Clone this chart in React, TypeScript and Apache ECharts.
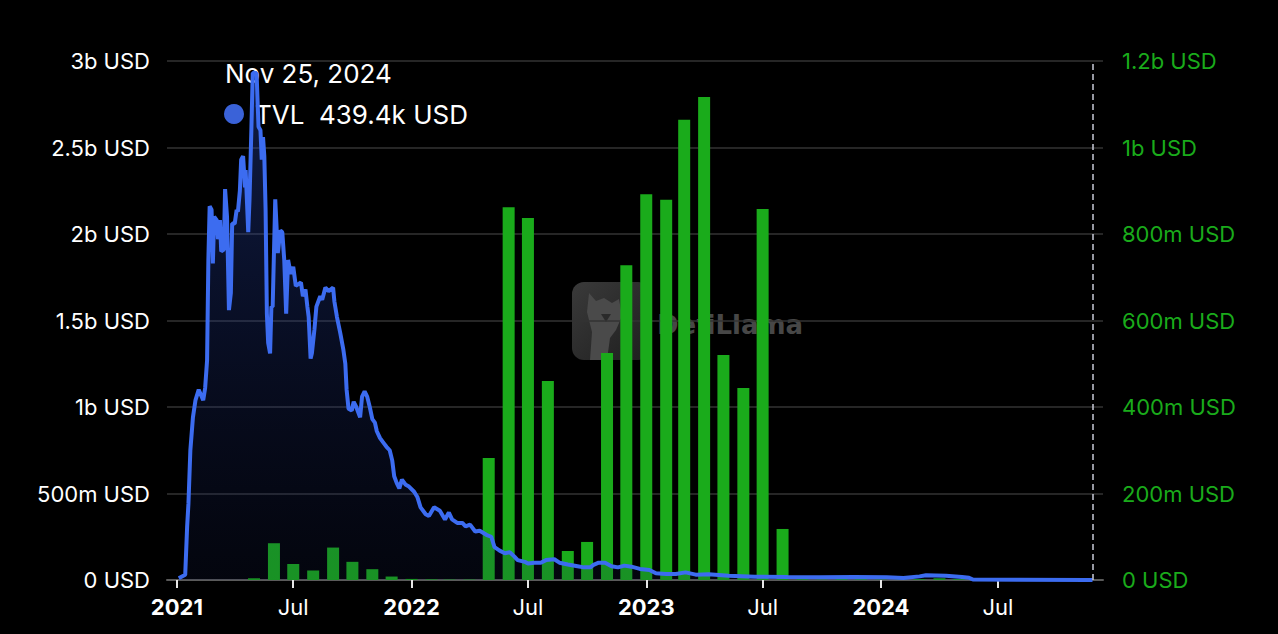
import React, { useEffect, useRef } from 'react';
import * as echarts from 'echarts';

// ---- DATA ----
const tvlDates = [
  '2021-01-04','2021-01-14','2021-01-17','2021-01-19','2021-01-22','2021-01-26','2021-01-30','2021-02-04','2021-02-11','2021-02-14',
  '2021-02-17','2021-02-19','2021-02-21','2021-02-24','2021-02-26','2021-02-28','2021-03-04','2021-03-06','2021-03-09','2021-03-11',
  '2021-03-15','2021-03-17','2021-03-20','2021-03-23','2021-03-26','2021-03-28','2021-04-01','2021-04-04','2021-04-06','2021-04-09',
  '2021-04-11','2021-04-14','2021-04-17','2021-04-18','2021-04-22','2021-04-24','2021-04-27','2021-04-29','2021-05-05','2021-05-08',
  '2021-05-11','2021-05-13','2021-05-15','2021-05-17','2021-05-19','2021-05-21','2021-05-23','2021-05-26','2021-05-28','2021-05-30',
  '2021-06-03','2021-06-07','2021-06-11','2021-06-14','2021-06-17','2021-06-20','2021-06-23','2021-06-27','2021-07-01','2021-07-05',
  '2021-07-13','2021-07-16','2021-07-20','2021-07-23','2021-07-25','2021-07-28','2021-07-30','2021-08-03','2021-08-06','2021-08-12',
  '2021-08-15','2021-08-20','2021-08-25','2021-09-01','2021-09-03','2021-09-07','2021-09-12','2021-09-17','2021-09-20','2021-09-22',
  '2021-09-25','2021-09-30','2021-10-03','2021-10-07','2021-10-13','2021-10-16','2021-10-20','2021-10-24','2021-10-28','2021-11-01',
  '2021-11-05','2021-11-08','2021-11-13','2021-11-19','2021-11-23','2021-11-28','2021-12-02','2021-12-05','2021-12-09','2021-12-13',
  '2021-12-17','2021-12-23','2021-12-28','2022-01-05','2022-01-10','2022-01-15','2022-01-23','2022-01-28','2022-02-05','2022-02-14',
  '2022-02-22','2022-02-28','2022-03-05','2022-03-13','2022-03-21','2022-03-26','2022-04-02','2022-04-10','2022-04-17','2022-04-28',
  '2022-05-05','2022-05-10','2022-05-18','2022-05-26','2022-06-03','2022-06-10','2022-06-15','2022-06-26','2022-07-01','2022-07-11',
  '2022-07-21','2022-07-29','2022-08-11','2022-08-19','2022-09-01','2022-09-16','2022-09-26','2022-10-06','2022-10-11','2022-10-19',
  '2022-10-29','2022-11-08','2022-11-18','2022-11-28','2022-12-09','2022-12-22','2023-01-06','2023-01-16','2023-02-01','2023-02-16',
  '2023-03-03','2023-03-19','2023-04-08','2023-05-09','2023-06-19','2023-08-09','2023-09-29','2023-11-20','2024-01-10','2024-02-05',
  '2024-03-01','2024-03-11','2024-04-11','2024-05-06','2024-05-17','2024-05-23','2024-08-01','2024-11-17','2024-11-25',
];
// TVL in billions of USD
const tvlValues = [
  0.01,0.03,0.31,0.44,0.75,0.94,1.04,1.10,1.04,1.11,
  1.27,1.85,2.16,2.14,1.83,2.10,2.08,1.97,2.08,1.90,
  1.91,2.26,2.10,1.56,1.66,2.06,2.06,2.14,2.13,2.25,
  2.43,2.45,2.27,2.37,2.01,2.20,2.62,2.93,2.93,2.62,
  2.60,2.43,2.56,2.45,2.14,1.54,1.37,1.31,1.58,1.58,
  2.20,1.89,2.02,2.01,1.85,1.54,1.85,1.77,1.81,1.70,
  1.72,1.64,1.68,1.58,1.52,1.28,1.31,1.45,1.58,1.64,
  1.62,1.69,1.67,1.69,1.61,1.52,1.43,1.33,1.25,1.10,
  0.99,0.98,1.03,1.00,0.94,1.06,1.09,1.06,1.00,0.93,
  0.91,0.86,0.82,0.79,0.77,0.75,0.69,0.60,0.56,0.53,
  0.58,0.55,0.54,0.51,0.48,0.42,0.38,0.37,0.42,0.40,
  0.35,0.39,0.35,0.33,0.33,0.31,0.32,0.28,0.285,0.26,
  0.25,0.19,0.17,0.155,0.16,0.135,0.115,0.105,0.095,0.10,
  0.10,0.115,0.12,0.10,0.09,0.08,0.073,0.073,0.087,0.10,
  0.10,0.08,0.073,0.083,0.077,0.064,0.058,0.039,0.035,0.035,
  0.044,0.031,0.033,0.025,0.019,0.017,0.016,0.017,0.016,0.012,
  0.021,0.027,0.025,0.017,0.013,0.003,0.002,0.0006,0.0004394,
];

const barMonths = [
  '2021-05-01','2021-06-01','2021-07-01','2021-08-01','2021-09-01','2021-10-01','2021-11-01','2021-12-01',
  '2022-01-01','2022-02-01','2022-03-01','2022-04-01','2022-05-01','2022-06-01','2022-07-01','2022-08-01',
  '2022-09-01','2022-10-01','2022-11-01','2022-12-01','2023-01-01','2023-02-01','2023-03-01','2023-04-01',
  '2023-05-01','2023-06-01','2023-07-01','2023-08-01','2023-09-01','2023-10-01','2023-11-01','2023-12-01',
  '2024-01-01','2024-02-01','2024-03-01','2024-04-01','2024-05-01','2024-06-01','2024-07-01','2024-08-01',
  '2024-09-01','2024-10-01','2024-11-01',
];
// monthly bar values in millions of USD
const barValues = [
  4,85,37,22,75,42,25,8,
  2.5,1.5,1,1,282,862,837,460,
  67,88,525,728,892,879,1064,1117,
  520,444,858,118,2,1,3,2,
  1,1,2,4,2,1,1,0.5,
  0.5,0.5,3,
];

const leftTickLabels = ['0 USD', '500m USD', '1b USD', '1.5b USD', '2b USD', '2.5b USD', '3b USD'];
const rightTickLabels = ['0 USD', '200m USD', '400m USD', '600m USD', '800m USD', '1b USD', '1.2b USD'];
const yearMonthLabel = 'Jul';

const axisStart = '2020-12-26';
const axisEnd = '2024-12-02';

const tooltipDate = '2024-11-25';
const tooltipTitle = 'Nov 25, 2024';
const tooltipSeriesName = 'TVL';
const tooltipValueText = '439.4k USD';
const watermarkText = 'DefiLlama';

const ts = (d: string) => Date.parse(d + 'T00:00:00Z');

const BLUE = '#3c6cf0';
const GREEN = '#1aab1b';
const FONT = 'Inter, "Liberation Sans", Arial, sans-serif';
const AXIS_FS = 22;

export default function App() {
  const ref = useRef<HTMLDivElement>(null);

  useEffect(() => {
    if (!ref.current) return;
    const chart = echarts.init(ref.current, undefined, { renderer: 'svg' });

    const lineData = tvlDates.map((d, i) => [ts(d), tvlValues[i] * 1e9]);
    const barData = barMonths.map((d, i) => [ts(d), barValues[i] * 1e6]);

    const option: any = {
      animation: false,
      useUTC: true,
      backgroundColor: '#000000',
      textStyle: { fontFamily: FONT },
      grid: { left: 167, right: 175, top: 61, bottom: 54, containLabel: false },
      xAxis: {
        type: 'time',
        min: ts(axisStart),
        max: ts(axisEnd),
        minInterval: 190 * 86400000,
        maxInterval: 200 * 86400000,
        axisLine: { show: true, lineStyle: { color: '#5a5a5a', width: 2 } },
        axisTick: { show: true, length: 8, lineStyle: { color: '#e6e6e6', width: 2 } },
        splitLine: { show: false },
        axisLabel: {
          color: '#ffffff',
          fontSize: AXIS_FS,
          margin: 16,
          fontFamily: FONT,
          showMinLabel: false,
          showMaxLabel: false,
          formatter: (v: number) => {
            const dt = new Date(v);
            const m = dt.getUTCMonth();
            const day = dt.getUTCDate();
            if (day !== 1) return '';
            if (m === 0) return '{b|' + dt.getUTCFullYear() + '}';
            if (m === 6) return yearMonthLabel;
            return '';
          },
          rich: { b: { fontWeight: 'bold', fontSize: AXIS_FS, color: '#ffffff', fontFamily: FONT } },
        },
      },
      yAxis: [
        {
          type: 'value',
          min: 0,
          max: 3e9,
          interval: 5e8,
          position: 'left',
          axisLine: { show: false },
          axisTick: { show: false },
          splitLine: { show: true, lineStyle: { color: '#333333', width: 1.5 } },
          axisLabel: {
            color: '#ffffff',
            fontSize: AXIS_FS,
            margin: 17,
            fontFamily: FONT,
            formatter: (v: number) => leftTickLabels[Math.round(v / 5e8)] ?? '',
          },
        },
        {
          type: 'value',
          min: 0,
          max: 1.2e9,
          interval: 2e8,
          position: 'right',
          axisLine: { show: false },
          axisTick: { show: false },
          splitLine: { show: false },
          axisLabel: {
            color: GREEN,
            fontSize: AXIS_FS,
            margin: 19,
            fontFamily: FONT,
            formatter: (v: number) => rightTickLabels[Math.round(v / 2e8)] ?? '',
          },
        },
      ],
      series: [
        {
          name: 'Volume',
          type: 'bar',
          yAxisIndex: 1,
          barWidth: 12,
          z: 2,
          itemStyle: { color: GREEN },
          data: barData,
        },
        {
          name: 'TVL',
          type: 'line',
          yAxisIndex: 0,
          z: 3,
          symbol: 'none',
          showSymbol: false,
          lineStyle: { color: BLUE, width: 4 },
          areaStyle: {
            color: new echarts.graphic.LinearGradient(0, 0, 0, 1, [
              { offset: 0, color: 'rgba(45,80,200,0.5)' },
              { offset: 1, color: 'rgba(20,30,80,0.25)' },
            ]),
          },
          data: lineData,
          markLine: {
            silent: true,
            symbol: ['none', 'none'],
            label: { show: false },
            lineStyle: { color: '#c9ccd9', type: [6, 4], width: 1.5 },
            data: [{ xAxis: ts(tooltipDate) }],
          },
        },
      ],
      graphic: [
        {
          type: 'group',
          z: -1,
          silent: true,
          children: [
            {
              type: 'rect',
              shape: { x: 572, y: 282, width: 78, height: 78, r: 12 },
              style: {
                fill: new echarts.graphic.LinearGradient(0, 0, 1, 1, [
                  { offset: 0, color: '#3a3a3a' },
                  { offset: 1, color: '#1e1e1e' },
                ]),
              },
            },
            {
              type: 'polygon',
              shape: {
                points: [
                  [589, 293], [596, 301], [604, 298], [612, 303], [619, 299], [622, 316],
                  [616, 330], [610, 338], [607, 360], [590, 360], [592, 332], [587, 312],
                ],
              },
              style: { fill: '#4a4a4a' },
            },
            {
              type: 'polygon',
              shape: { points: [[601, 314], [611, 314], [606, 322]] },
              style: { fill: '#2a2a2a' },
            },
            {
              type: 'text',
              x: 657,
              y: 325,
              style: {
                text: watermarkText,
                fill: '#474747',
                font: 'bold 26px "DejaVu Sans", sans-serif',
                verticalAlign: 'middle',
                align: 'left',
              },
            },
          ],
        },
        {
          type: 'group',
          z: 100,
          silent: true,
          children: [
            {
              type: 'text',
              x: 225,
              y: 73,
              style: {
                text: tooltipTitle,
                fill: '#ffffff',
                font: '26px ' + FONT,
                verticalAlign: 'middle',
                align: 'left',
              },
            },
            {
              type: 'circle',
              shape: { cx: 234, cy: 114, r: 10 },
              style: { fill: '#3a62d8' },
            },
            {
              type: 'text',
              x: 255,
              y: 114,
              style: {
                text: tooltipSeriesName,
                fill: '#ffffff',
                font: '26px ' + FONT,
                verticalAlign: 'middle',
                align: 'left',
              },
            },
            {
              type: 'text',
              x: 319,
              y: 114,
              style: {
                text: tooltipValueText,
                fill: '#ffffff',
                font: '26px ' + FONT,
                verticalAlign: 'middle',
                align: 'left',
              },
            },
          ],
        },
      ],
    };

    chart.setOption(option);
    return () => chart.dispose();
  }, []);

  return (
    <div style={{ position: 'fixed', left: 0, top: 0, width: 1278, height: 634, background: '#000' }}>
      <div ref={ref} style={{ width: 1278, height: 634 }} />
    </div>
  );
}
